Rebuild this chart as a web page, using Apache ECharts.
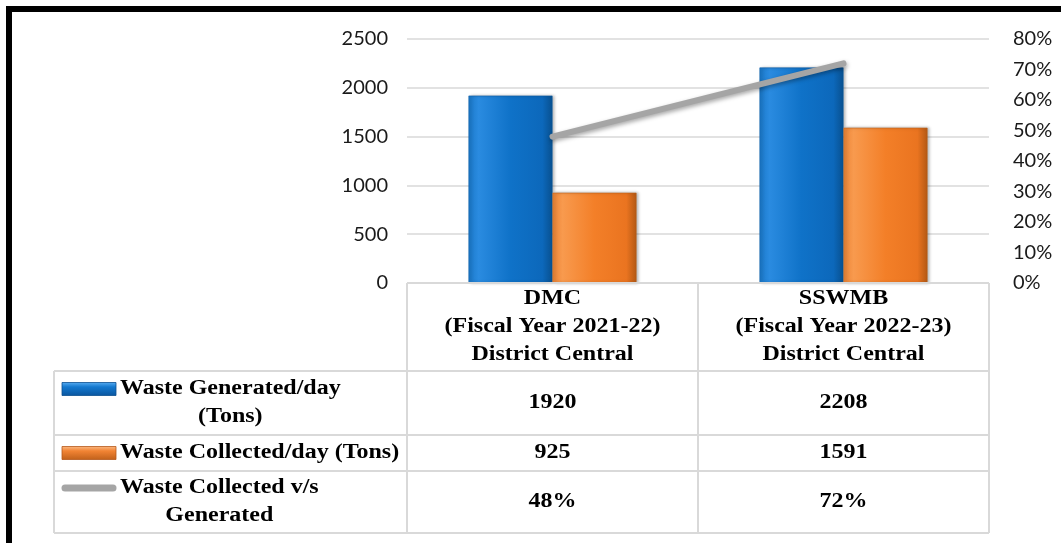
<!DOCTYPE html>
<html>
<head>
<meta charset="utf-8">
<script src="https://cdn.jsdelivr.net/npm/echarts@6/dist/echarts.min.js"></script>
<style>
  html, body { margin: 0; padding: 0; background: #ffffff; }
  #chart { width: 1061px; height: 543px; }
</style>
</head>
<body>
<div id="chart"></div>
<script>
// ---- data ----
const categories = [
  ['DMC', '(Fiscal Year 2021-22)', 'District Central'],
  ['SSWMB', '(Fiscal Year 2022-23)', 'District Central']
];
const seriesNames = [
  ['Waste Generated/day', '(Tons)'],
  ['Waste Collected/day (Tons)'],
  ['Waste Collected v/s', 'Generated']
];
const wasteGenerated = [1920, 2208];
const wasteCollected = [925, 1591];
const collectedShare = [0.48, 0.72];
const leftTicks = { min: 0, max: 2500, interval: 500 };
const rightTicks = { min: 0, max: 0.8, interval: 0.1 };

// ---- layout ----
const W = 1061, H = 543;
const grid = { left: 407, right: 72, top: 39, bottom: 260 };
const plotLeft = grid.left, plotRight = W - grid.right, plotBottom = H - grid.bottom;
const colW = (plotRight - plotLeft) / categories.length;
const tableLeft = 54;
const rowEdges = [plotBottom, 371, 435, 471, 533];
const keyLeft = 62, keyRight = 116, labelLeft = 120;
const lineGap = 28;
const tableFont = { fontFamily: '"Liberation Serif", "Times New Roman", serif', fontWeight: 'bold', fontSize: 20 };
const stretchX = 1.2;
const borderColor = '#d9d9d9';

const pctFmt = v => Math.round(v * 100) + '%';
const rowValues = [
  wasteGenerated.map(String),
  wasteCollected.map(String),
  collectedShare.map(pctFmt)
];

const measureCtx = document.createElement('canvas').getContext('2d');
measureCtx.font = 'bold 20px "Liberation Serif"';
const textWidth = s => measureCtx.measureText(s).width * stretchX;

function tableText(text, x, y, align) {
  return {
    type: 'text', x: x, y: y, scaleX: stretchX, scaleY: 1, z: 10,
    style: Object.assign({ text: text, fill: '#000', align: align || 'center', verticalAlign: 'middle' }, tableFont)
  };
}
function hLine(x1, x2, y) {
  return { type: 'line', z: 9, shape: { x1: x1, y1: y, x2: x2, y2: y }, style: { stroke: borderColor, lineWidth: 2 } };
}
function vLine(x, y1, y2) {
  return { type: 'line', z: 9, shape: { x1: x, y1: y1, x2: x, y2: y2 }, style: { stroke: borderColor, lineWidth: 2 } };
}
function lines(block, cx, cy) {
  const top = cy - (block.length - 1) * lineGap / 2;
  return block.map((t, i) => tableText(t, cx, top + i * lineGap, 'center'));
}

const graphics = [];
// frame
graphics.push({ type: 'rect', z: 20, shape: { x: 6, y: 6, width: W - 6, height: 6 }, style: { fill: '#000' } });
graphics.push({ type: 'rect', z: 20, shape: { x: 6, y: 6, width: 6, height: H - 6 }, style: { fill: '#000' } });

// table grid
graphics.push(hLine(plotLeft, plotRight, rowEdges[0]));
for (let r = 1; r < rowEdges.length; r++) graphics.push(hLine(tableLeft, plotRight, rowEdges[r]));
graphics.push(vLine(tableLeft, rowEdges[1], rowEdges[rowEdges.length - 1]));
for (let c = 0; c <= categories.length; c++) graphics.push(vLine(plotLeft + c * colW, rowEdges[0], rowEdges[rowEdges.length - 1]));

// header cells
categories.forEach((cat, i) => {
  const cx = plotLeft + (i + 0.5) * colW;
  const cy = (rowEdges[0] + rowEdges[1]) / 2;
  lines(cat, cx, cy).forEach(g => graphics.push(g));
});

// legend keys
const blueKey = new echarts.graphic.LinearGradient(0, 0, 0, 1, [
  { offset: 0, color: '#5aaef2' }, { offset: 0.35, color: '#1479cf' }, { offset: 1, color: '#0a559e' }
]);
const orangeKey = new echarts.graphic.LinearGradient(0, 0, 0, 1, [
  { offset: 0, color: '#fbbb86' }, { offset: 0.35, color: '#f28434' }, { offset: 1, color: '#c0601a' }
]);

// body rows
seriesNames.forEach((name, r) => {
  const cy = (rowEdges[r + 1] + rowEdges[r + 2]) / 2;
  const blockW = Math.max.apply(null, name.map(textWidth));
  const labelCx = labelLeft + blockW / 2;
  const firstY = cy - (name.length - 1) * lineGap / 2;
  lines(name, labelCx, cy).forEach(g => graphics.push(g));
  if (r === 0 || r === 1) {
    graphics.push({ type: 'rect', z: 10, shape: { x: keyLeft, y: firstY - 6.5, width: keyRight - keyLeft, height: 13 },
      style: { fill: r === 0 ? blueKey : orangeKey, stroke: r === 0 ? '#0a4f90' : '#b5581a', lineWidth: 0.8 } });
  } else {
    graphics.push({ type: 'line', z: 10, shape: { x1: keyLeft + 3, y1: firstY, x2: keyRight - 3, y2: firstY },
      style: { stroke: '#a5a5a5', lineWidth: 7, lineCap: 'round' } });
  }
  rowValues[r].forEach((v, i) => {
    graphics.push(tableText(v, plotLeft + (i + 0.5) * colW, cy, 'center'));
  });
});

// bar fills
const blueBar = new echarts.graphic.LinearGradient(0, 0, 1, 0, [
  { offset: 0, color: '#1a78c9' }, { offset: 0.12, color: '#2a8be0' }, { offset: 0.5, color: '#0f72c8' },
  { offset: 0.88, color: '#0c68bb' }, { offset: 1, color: '#08508f' }
]);
const orangeBar = new echarts.graphic.LinearGradient(0, 0, 1, 0, [
  { offset: 0, color: '#ec8436' }, { offset: 0.12, color: '#f89a4e' }, { offset: 0.5, color: '#f37f28' },
  { offset: 0.88, color: '#ea7420' }, { offset: 1, color: '#b35814' }
]);

const axisLabelStyle = { fontFamily: 'Lato, "Open Sans", sans-serif', fontSize: 20, color: '#1a1a1a' };

const option = {
  animation: false,
  backgroundColor: '#ffffff',
  grid: grid,
  xAxis: {
    type: 'category',
    data: categories.map(c => c[0]),
    axisLine: { show: false },
    axisTick: { show: false },
    axisLabel: { show: false }
  },
  yAxis: [
    {
      type: 'value', min: leftTicks.min, max: leftTicks.max, interval: leftTicks.interval,
      axisLine: { show: false }, axisTick: { show: false },
      axisLabel: Object.assign({ margin: 19, formatter: v => String(v) }, axisLabelStyle),
      splitLine: { lineStyle: { color: '#d9d9d9', width: 1.5 } }
    },
    {
      type: 'value', min: rightTicks.min, max: rightTicks.max, interval: rightTicks.interval,
      position: 'right',
      axisLine: { show: false }, axisTick: { show: false },
      axisLabel: Object.assign({ margin: 24, formatter: pctFmt }, axisLabelStyle),
      splitLine: { show: false }
    }
  ],
  series: [
    {
      name: seriesNames[0].join(' '), type: 'bar', data: wasteGenerated, barWidth: 84, barGap: '0%',
      itemStyle: { color: blueBar, borderColor: '#0b5ca6', borderWidth: 0.6,
        shadowColor: 'rgba(0,0,0,0.35)', shadowBlur: 3, shadowOffsetX: 2, shadowOffsetY: 0 }
    },
    {
      name: seriesNames[1].join(' '), type: 'bar', data: wasteCollected, barWidth: 84,
      itemStyle: { color: orangeBar, borderColor: '#c0621a', borderWidth: 0.6,
        shadowColor: 'rgba(0,0,0,0.35)', shadowBlur: 3, shadowOffsetX: 2, shadowOffsetY: 0 }
    },
    {
      name: seriesNames[2].join(' '), type: 'line', yAxisIndex: 1, data: collectedShare, z: 5,
      symbol: 'none',
      lineStyle: { color: '#a5a5a5', width: 6, cap: 'round',
        shadowColor: 'rgba(0,0,0,0.35)', shadowBlur: 4, shadowOffsetX: 1, shadowOffsetY: 2 }
    }
  ],
  graphic: graphics
};

const chart = echarts.init(document.getElementById('chart'), null, { renderer: 'canvas' });
chart.setOption(option);
</script>
</body>
</html>
